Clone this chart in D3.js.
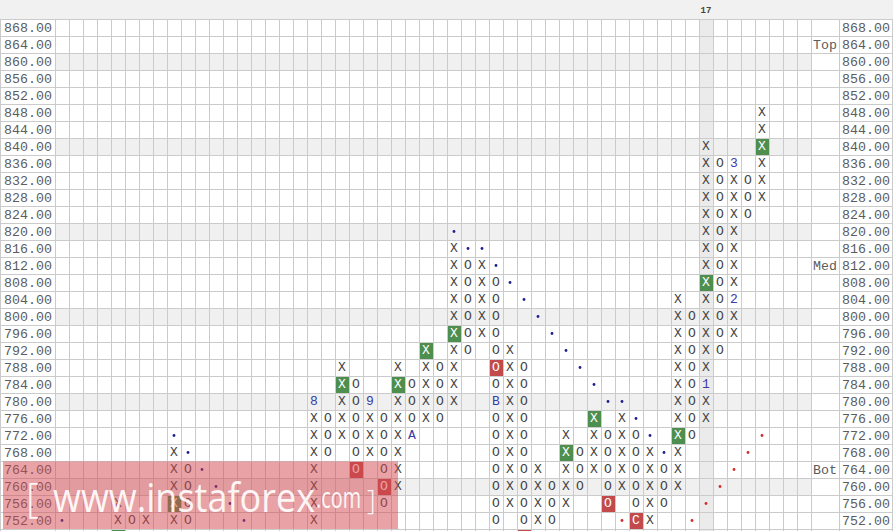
<!DOCTYPE html>
<html><head><meta charset="utf-8">
<script src="https://cdn.jsdelivr.net/npm/d3@7"></script>
<style>html,body{margin:0;padding:0;background:#fff;overflow:hidden}</style>
</head><body><svg id="c" width="893" height="531"></svg>
<script>
// ---------- data ----------
const priceLabels = ["868.00","864.00","860.00","856.00","852.00","848.00","844.00","840.00","836.00","832.00",
  "828.00","824.00","820.00","816.00","812.00","808.00","804.00","800.00","796.00","792.00",
  "788.00","784.00","780.00","776.00","772.00","768.00","764.00","760.00","756.00","752.00"];
const prices = [868,864,860,856,852,848,844,840,836,832,828,824,820,816,812,808,804,800,796,792,
  788,784,780,776,772,768,764,760,756,752,748];
const boxSize = 4;
const columnCount = 54;
// [column, low, high]
const xColumns = [[4,748,756],[6,752,752],[8,752,768],[18,752,780],[20,772,788],[22,768,780],[24,760,788],
  [26,776,792],[28,780,816],[30,796,812],[32,756,792],[34,752,764],[36,756,772],[38,764,776],[40,760,776],
  [42,752,768],[44,760,804],[46,776,840],[48,796,836],[50,828,848]];
const oColumns = [[5,752,752],[9,752,764],[19,768,776],[21,764,784],[23,756,776],[25,772,784],[27,776,788],
  [29,792,812],[31,752,808],[33,748,788],[35,752,760],[37,760,768],[39,756,772],[41,752,772],[43,756,764],
  [45,772,800],[47,792,836],[49,824,832]];
const greenBoxes = [[4,748],[8,756],[20,784],[24,784],[26,792],[28,796],[36,768],[38,776],[44,772],[46,808],[50,840]];
const redBoxes = [[21,764],[23,760],[31,788],[33,748],[39,756],[41,752]];
const monthLabels = [[18,780,"8"],[22,780,"9"],[25,772,"A"],[31,780,"B"],[41,752,"C"],[46,784,"1"],[48,804,"2"],[48,836,"3"]];
const blueDots = [[0,752],[8,772],[9,768],[10,764],[11,760],[12,756],[13,752],[28,820],[29,816],[30,816],[31,812],
  [32,808],[33,804],[34,800],[35,796],[36,792],[37,788],[38,784],[39,780],[40,780],[41,776],[42,772],[43,768]];
const redDots = [[40,752],[45,752],[46,756],[47,760],[48,764],[49,768],[50,772]];
const levelLabels = [["Top",864],["Med",812],["Bot",764]];
const shadedPrices = [860,840,820,800,780,760];
const currentColumn = 46;
const currentColumnLabel = "17";

// ---------- drawing ----------
(function(){
const svg = d3.select("#c");
const W = 893, H = 531;
const gridLeft = 55, gridRight = 811, levelRight = 839, topY = 19, rowH = 17;
const x = d3.scaleBand().domain(d3.range(columnCount)).range([gridLeft, gridRight]);
const y = d3.scaleBand().domain(prices).range([topY, topY + prices.length * rowH]);
const bw = x.bandwidth(), bh = y.bandwidth();
const mono = "'Liberation Mono','Courier New',monospace";
const lowestShown = 752;

svg.append("rect").attr("x",0).attr("y",0).attr("width",W).attr("height",topY).attr("fill","#f1f1f1");
svg.selectAll(".srow").data(shadedPrices).join("rect")
  .attr("x",gridLeft).attr("y",d=>y(d)).attr("width",gridRight-gridLeft).attr("height",bh).attr("fill","#f0f0f0");
svg.append("rect").attr("x",x(currentColumn)).attr("y",topY).attr("width",bw).attr("height",H-topY).attr("fill","#ebebeb");

const g = svg.append("g").attr("stroke","#cbcbcb").attr("stroke-width",1).attr("shape-rendering","crispEdges");
g.selectAll(".h").data(prices.concat([null])).join("line")
  .attr("x1",0).attr("x2",W)
  .attr("y1",(d,i)=>topY + i*rowH + 0.5).attr("y2",(d,i)=>topY + i*rowH + 0.5);
const vlines = d3.range(columnCount+1).map(i => i < columnCount ? x(i) : gridRight).concat([0.5, levelRight, W-0.5]);
g.selectAll(".v").data(vlines).join("line")
  .attr("x1",d=>Math.floor(d)+0.5).attr("x2",d=>Math.floor(d)+0.5).attr("y1",topY).attr("y2",H);

svg.selectAll(".pl").data(priceLabels).join("text")
  .attr("x",4).attr("y",(d,i)=>y(prices[i])+12.5).text(d=>d)
  .attr("font-family",mono).attr("font-size","13.3px").attr("fill","#5c5c5c");
svg.selectAll(".pr").data(priceLabels).join("text")
  .attr("x",842).attr("y",(d,i)=>y(prices[i])+12.5).text(d=>d)
  .attr("font-family",mono).attr("font-size","13.3px").attr("fill","#5c5c5c");
svg.selectAll(".lv").data(levelLabels).join("text")
  .attr("x",813).attr("y",d=>y(d[1])+12.5).text(d=>d[0])
  .attr("font-family",mono).attr("font-size","13.3px").attr("fill","#5c5c5c");
svg.append("text").attr("x",x(currentColumn)+bw/2).attr("y",13).attr("text-anchor","middle")
  .attr("font-family",mono).attr("font-size","9px").attr("font-weight","bold").attr("fill","#444").text(currentColumnLabel);

svg.selectAll(".gb").data(greenBoxes).join("rect")
  .attr("x",d=>x(d[0])+1).attr("y",d=>y(d[1])+1).attr("width",bw-1).attr("height",bh-1).attr("fill","#4e8e4e");
svg.selectAll(".rb").data(redBoxes).join("rect")
  .attr("x",d=>x(d[0])+1).attr("y",d=>y(d[1])+1).attr("width",bw-1).attr("height",bh-1).attr("fill","#c24a4a");

const key = (c,p)=>c+"_"+p;
const labelled = new Set(monthLabels.map(d=>key(d[0],d[1])));
const boxed = new Set(greenBoxes.concat(redBoxes).map(d=>key(d[0],d[1])));
const cells = [];
xColumns.forEach(([c,lo,hi])=>{ for(let p=lo;p<=hi;p+=boxSize) cells.push([c,p,"X"]); });
oColumns.forEach(([c,lo,hi])=>{ for(let p=lo;p<=hi;p+=boxSize) cells.push([c,p,"O"]); });
svg.selectAll(".sym").data(cells.filter(d=>!labelled.has(key(d[0],d[1])) && d[1] >= lowestShown)).join("text")
  .attr("x",d=>x(d[0])+bw/2).attr("y",d=>y(d[1])+12.2).attr("text-anchor","middle")
  .attr("font-family",mono).attr("font-size","13px")
  .attr("fill",d=>boxed.has(key(d[0],d[1]))?"#fff":"#444").text(d=>d[2]);
svg.selectAll(".ml").data(monthLabels).join("text")
  .attr("x",d=>x(d[0])+bw/2).attr("y",d=>y(d[1])+12.2).attr("text-anchor","middle")
  .attr("font-family",mono).attr("font-size","13px")
  .attr("fill",d=>boxed.has(key(d[0],d[1]))?"#fff":"#3a3aaa").text(d=>d[2]);

svg.selectAll(".bd").data(blueDots).join("circle")
  .attr("cx",d=>x(d[0])+bw/2).attr("cy",d=>y(d[1])+bh/2).attr("r",1.4).attr("fill","#1f1f8f");
svg.selectAll(".rd").data(redDots).join("circle")
  .attr("cx",d=>x(d[0])+bw/2).attr("cy",d=>y(d[1])+bh/2).attr("r",1.4).attr("fill","#d42a2a");

const wm = svg.append("g");
wm.append("rect").attr("x",3).attr("y",461.5).attr("width",395).attr("height",67.5)
  .attr("fill","rgb(211,71,77)").attr("fill-opacity",0.5);
const wf = "'Open Sans','Noto Sans',sans-serif";
wm.append("text").attr("x",26).attr("y",512).attr("font-family",wf).attr("font-size","40px").attr("font-weight",300)
  .attr("fill","#fff").attr("fill-opacity",0.92).text("[");
wm.append("text").attr("x",53).attr("y",512).attr("font-family",wf).attr("font-size","40px")
  .attr("textLength",262).attr("lengthAdjust","spacingAndGlyphs")
  .attr("fill","#fff").attr("fill-opacity",0.92).text("www.instaforex");
wm.append("text").attr("x",316).attr("y",508).attr("font-family",wf).attr("font-size","29px")
  .attr("textLength",45).attr("lengthAdjust","spacingAndGlyphs")
  .attr("fill","#fff").attr("fill-opacity",0.92).text(".com");
wm.append("text").attr("x",367).attr("y",510).attr("font-family",wf).attr("font-size","27px").attr("font-weight",300)
  .attr("fill","#fff").attr("fill-opacity",0.92).text("]");
})();
</script></body></html>
